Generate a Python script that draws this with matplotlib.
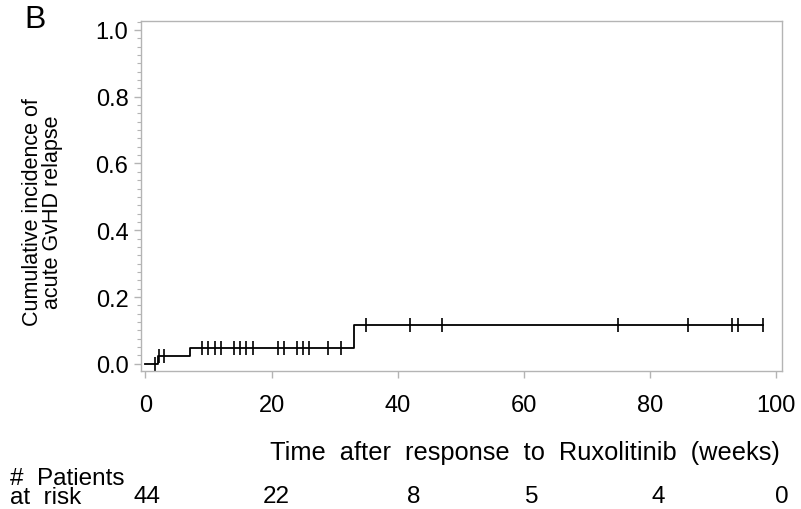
import numpy as np
import matplotlib.pyplot as plt
from matplotlib.ticker import MultipleLocator

plt.rcParams['font.family'] = ['Liberation Sans', 'DejaVu Sans']

# cumulative incidence steps (week of event, level after event)
event_weeks = [0, 2, 7, 33]
event_levels = [0.0, 0.023, 0.047, 0.115]
last_week = 98

# censored observations (weeks)
censor_weeks = [1.5, 2.2, 2.9, 9, 10, 11, 12, 14, 15, 16, 17, 21, 22, 24, 25, 26,
                29, 31, 35, 42, 47, 75, 86, 93, 94, 98]

risk_times = [0, 20, 40, 60, 80, 100]
risk_counts = [44, 22, 8, 5, 4, 0]

# where the at-risk numbers sit along the time axis
risk_label_x = [0.2, 20.8, 42.6, 61.3, 81.3, 100.9]

GRAY = '#b4b4b4'


def level_at(t):
    idx = np.searchsorted(event_weeks, t, side='right') - 1
    return event_levels[idx]


def main():
    fig = plt.figure(figsize=(8.01, 5.10), dpi=100)
    ax = fig.add_axes([0.176, 0.271, 0.800, 0.686])

    xs = event_weeks + [last_week]
    ys = event_levels + [event_levels[-1]]
    ax.step(xs, ys, where='post', color='black', lw=1.3)

    cy = [level_at(t) for t in censor_weeks]
    ax.plot(censor_weeks, cy, ls='none', marker='|', color='black',
            markersize=10, markeredgewidth=1.2)

    ax.set_xlim(-0.7, 100.9)
    ax.set_ylim(-0.021, 1.027)
    ax.set_xticks(np.arange(0, 101, 20))
    ax.set_yticks(np.arange(0, 1.01, 0.2))
    ax.set_yticklabels([f'{v:.1f}' for v in np.arange(0, 1.01, 0.2)])
    ax.yaxis.set_minor_locator(MultipleLocator(0.025))

    for s in ax.spines.values():
        s.set_color(GRAY)
        s.set_linewidth(1.0)
    ax.tick_params(axis='both', which='major', color=GRAY, labelsize=17,
                   length=5, width=1.0)
    ax.tick_params(axis='x', pad=12)
    ax.tick_params(axis='y', pad=4)
    ax.tick_params(axis='y', which='minor', color=GRAY, length=3, width=0.8)

    fig.text(0.053, 0.584, 'Cumulative incidence of\nacute GvHD relapse',
             fontsize=15.5, rotation=90, ha='center', va='center',
             linespacing=0.98)

    fig.text(0.974, 0.112, 'Time  after  response  to  Ruxolitinib  (weeks)',
             ha='right', va='center', fontsize=18.3)
    # two-line row label for the at-risk table
    fig.text(0.012, 0.002, '#  Patients\nat  risk', ha='left', va='bottom',
             fontsize=17.5, linespacing=0.82)
    for lx, n in zip(risk_label_x, risk_counts):
        ax.annotate(str(n), xy=(lx, 0.026), xycoords=('data', 'figure fraction'),
                    ha='center', va='center', fontsize=17.5)

    fig.text(0.030, 0.961, 'B', fontsize=23, ha='left', va='center')

    fig.savefig('out.png', dpi=100)


if __name__ == "__main__":
    main()
